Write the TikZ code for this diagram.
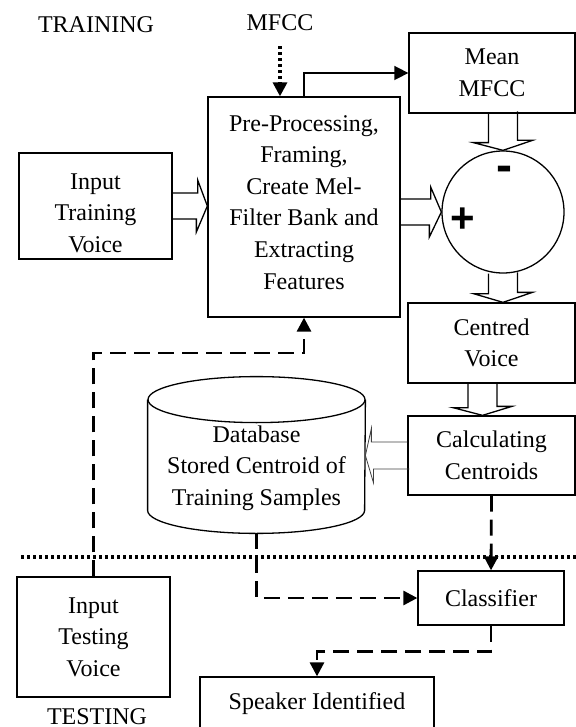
\documentclass[tikz,border=0pt]{standalone}
\usepackage{fontspec}
\setmainfont{Liberation Serif}
\setsansfont{Liberation Sans}
\usetikzlibrary{calc}
\usetikzlibrary{arrows.meta}

\tikzset{
  box/.style={draw, line width=0.65pt, align=center, inner sep=0pt},
  hollow/.style={line width=0.65pt, line join=miter},
  dashline/.style={line width=1.4pt, dash pattern=on 8pt off 4pt},
  dotline/.style={line width=1.6pt, dash pattern=on 1.6pt off 1.4pt},
  headarrow/.style={-{Triangle[length=7pt,width=7pt]}},
}

\begin{document}
\begin{tikzpicture}[x=0.5pt, y=-0.5pt, font=\fontsize{12}{15.8}\selectfont]
\clip (0,0) rectangle (576,727);

\node (training) at (96,25) {TRAINING};											% Ueberschrift oben
\node (testing) at (97,717) {TESTING};											% Ueberschrift unten
\node (mfcc) at (280,23) {MFCC};

\node[box, minimum width=76.5pt, minimum height=53pt] (intr) at (95.5,206) {\\[-1pt]Input\\Training\\Voice};
\node[box, minimum width=96pt, minimum height=110pt] (pp) at (304,207) {Pre-Processing,\\Framing,\\Create Mel-\\Filter Bank and\\Extracting\\Features\\[-11pt]};
\node[box, minimum width=83pt, minimum height=40pt] (mean) at (492,73) {Mean\\MFCC};
\node[draw, circle, line width=0.65pt, minimum size=61pt, inner sep=0pt] (sub) at (503,212) {};	% Subtrahierer
\node[font=\sffamily\bfseries\fontsize{24}{24}\selectfont] (minus) at (504,174) {-};
\node[font=\sffamily\bfseries\fontsize{21}{21}\selectfont] (plus) at (463,220) {+};
\node[box, minimum width=83.5pt, minimum height=40pt] (centred) at (491.5,343) {Centred\\Voice};
\node[box, minimum width=83.5pt, minimum height=39.5pt] (calc) at (491.5,455.5) {Calculating\\Centroids};
\node[minimum width=108.5pt, minimum height=78pt, inner sep=0pt] (db) at (256.5,455) {};	% Datenbank (Umriss unten)
\node[align=center] (dbtext) at (256.5,468) {Database\\Stored Centroid of\\Training Samples};
\node[box, minimum width=73pt, minimum height=27pt] (classifier) at (491,598) {Classifier};
\node[box, minimum width=76.5pt, minimum height=60pt] (intest) at (93.5,637) {Input\\Testing\\Voice};
\node[box, minimum width=117pt, minimum height=27pt] (speaker) at (317,704) {Speaker Identified};

\draw[line width=0.65pt] ($(db.north)+(0,23)$) ellipse [x radius=54.25pt, y radius=11.5pt];	% Zylinder Deckel
\draw[line width=0.65pt] ($(db.north west)+(0,23)$) -- ($(db.south west)+(0,-23)$) arc [start angle=180, end angle=360, x radius=54.25pt, y radius=11.5pt] -- ($(db.north east)+(0,23)$);	% Zylinder Mantel

\draw[dotline] (21,557) -- (576,557);											% Trennlinie Training / Testing

\draw[dotline, headarrow, shorten <=4pt] (mfcc.south) -- (mfcc.south |- pp.north);
\draw[line width=0.8pt, headarrow] (pp.north) |- (mean.west);

\draw[hollow] ($(intr.east)+(0,-13)$) -- ++(25,0) -- ++(0,-13) -- (pp.west |- intr.east) -- ++(-11,26) -- ++(0,-13) -- ++(-25,0);	% Eingang -> Vorverarbeitung
\draw[hollow] ($(pp.east |- sub.west)+(0,-13)$) -- ++(30,0) -- ++(0,-12) -- (sub.west) -- ++(-12,25) -- ++(0,-12) -- ++(-30,0);		% Vorverarbeitung -> Subtrahierer
\draw[hollow] ($(sub.north |- mean.south)+(-14.5,0)$) -- ++(0,29) -- ++(-15,0) -- (sub.north) -- ++(29.5,-10) -- ++(-15,0) -- ++(0,-29);	% Mittelwert -> Subtrahierer
\draw[hollow] ($(sub.south)+(-14.5,0)$) -- ++(0,20) -- ++(-15,0) -- (sub.south |- centred.north) -- ++(29.5,-10) -- ++(-15,0) -- ++(0,-20);	% Subtrahierer -> zentriert
\draw[hollow] ($(centred.south)+(-23.5,0)$) -- ++(0,24) -- ++(-15,0) -- ($(calc.north)+(-9,0)$) -- ++(29.5,-9) -- ++(-15,0) -- ++(0,-24);	% zentriert -> Zentroide
\draw[hollow, line width=0.4pt, black!75] ($(calc.west)+(0,-13.5)$) -- ++(-36,0) -- ++(0,-13.5) -- (db.east |- calc.west) -- ++(8,27) -- ++(0,-13.5) -- ++(36,0);	% Zentroide -> Datenbank

\draw[dashline, headarrow] (intest.north) -- (intest.north |- 0,353) -- (pp.south |- 0,353) -- (pp.south);	% Testeingang -> Vorverarbeitung
\draw[dashline, headarrow] (calc.south) -- (classifier.north);
\draw[dashline, headarrow] (db.south) |- (classifier.west);
\draw[dashline, headarrow] (classifier.south) -- ++(0,26) -| (speaker.north);

\end{tikzpicture}
\end{document}
